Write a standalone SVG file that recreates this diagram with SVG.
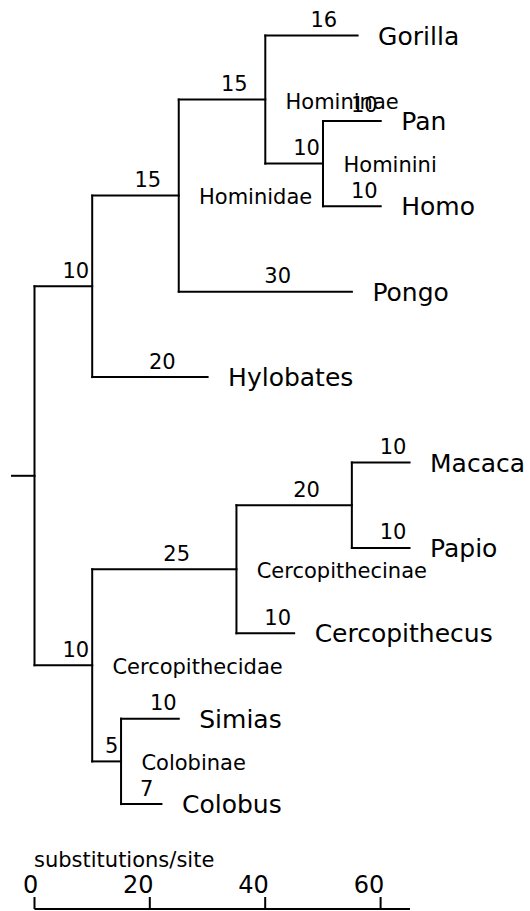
<svg xmlns="http://www.w3.org/2000/svg" width="530" height="911" viewBox="0 0 530 911">
<style>
.br{fill:none;stroke:#000;stroke-width:2;stroke-linecap:square}
.leaf{font-family:"DejaVu Sans",sans-serif;font-size:25px;fill:#000}
.inner{font-family:"DejaVu Sans",sans-serif;font-size:21px;fill:#000}
.bl{font-family:"DejaVu Sans",sans-serif;font-size:21px;fill:#000}
.sc{font-family:"DejaVu Sans",sans-serif;font-size:24px;fill:#000;text-anchor:end}
</style>
<rect width="530" height="911" fill="#fff"/>
<g id="connectors">
  <path class="br" d="M12,475.8H34.5"/>
  <path class="br" d="M34.5,286.35V665.3"/>
  <path class="br" d="M34.5,286.35H92.2"/>
  <path class="br" d="M92.2,195.6V377.1"/>
  <path class="br" d="M92.2,195.6H178.75"/>
  <path class="br" d="M92.2,377.1H207.6"/>
  <path class="br" d="M178.75,99.55V291.7"/>
  <path class="br" d="M178.75,99.55H265.3"/>
  <path class="br" d="M178.75,291.7H351.9"/>
  <path class="br" d="M265.3,35.5V163.6"/>
  <path class="br" d="M265.3,35.5H357.6"/>
  <path class="br" d="M265.3,163.6H323"/>
  <path class="br" d="M323,120.9V206.3"/>
  <path class="br" d="M323,120.9H380.7"/>
  <path class="br" d="M323,206.3H380.7"/>
  <path class="br" d="M34.5,665.3H92.2"/>
  <path class="br" d="M92.2,569.25V761.4"/>
  <path class="br" d="M92.2,569.25H236.45"/>
  <path class="br" d="M236.45,505.2V633.3"/>
  <path class="br" d="M236.45,505.2H351.85"/>
  <path class="br" d="M351.85,462.5V547.9"/>
  <path class="br" d="M351.85,462.5H409.55"/>
  <path class="br" d="M351.85,547.9H409.55"/>
  <path class="br" d="M236.45,633.3H294.15"/>
  <path class="br" d="M92.2,761.4H121.05"/>
  <path class="br" d="M121.05,718.7V804.1"/>
  <path class="br" d="M121.05,718.7H178.75"/>
  <path class="br" d="M121.05,804.1H161.44"/>
</g>
<g id="branch-lengths">
  <text class="bl" x="62.4" y="277.9">10</text>
  <text class="bl" x="134.5" y="187.1">15</text>
  <text class="bl" x="148.9" y="368.6">20</text>
  <text class="bl" x="221" y="91">15</text>
  <text class="bl" x="264.3" y="283.2">30</text>
  <text class="bl" x="310.5" y="27">16</text>
  <text class="bl" x="293.2" y="155.1">10</text>
  <text class="bl" x="350.9" y="112.4">10</text>
  <text class="bl" x="350.9" y="197.8">10</text>
  <text class="bl" x="62.4" y="656.8">10</text>
  <text class="bl" x="163.3" y="560.75">25</text>
  <text class="bl" x="293.2" y="496.7">20</text>
  <text class="bl" x="379.7" y="454">10</text>
  <text class="bl" x="379.7" y="539.4">10</text>
  <text class="bl" x="264.3" y="624.8">10</text>
  <text class="bl" x="105" y="752.9">5</text>
  <text class="bl" x="149.9" y="710.2">10</text>
  <text class="bl" x="140" y="795.6">7</text>
</g>
<g id="Hominidae"><text class="inner" x="199" y="203.8">Hominidae</text></g>
<g id="Homininae"><text class="inner" x="285.5" y="108.6">Homininae</text></g>
<g id="Hominini"><text class="inner" x="343.5" y="172.4">Hominini</text></g>
<g id="Cercopithecinae"><text class="inner" x="256.7" y="578.2">Cercopithecinae</text></g>
<g id="Cercopithecidae"><text class="inner" x="112.4" y="674.2">Cercopithecidae</text></g>
<g id="Colobinae"><text class="inner" x="141.4" y="770.2">Colobinae</text></g>
<g id="Gorilla"><text class="leaf" x="378.1" y="44.5">Gorilla</text></g>
<g id="Pan"><text class="leaf" x="401.2" y="129.9">Pan</text></g>
<g id="Homo"><text class="leaf" x="401.2" y="215.3">Homo</text></g>
<g id="Pongo"><text class="leaf" x="372.4" y="300.7">Pongo</text></g>
<g id="Hylobates"><text class="leaf" x="228.1" y="386.1">Hylobates</text></g>
<g id="Macaca"><text class="leaf" x="430" y="471.5">Macaca</text></g>
<g id="Papio"><text class="leaf" x="430" y="556.9">Papio</text></g>
<g id="Cercopithecus"><text class="leaf" x="314.65" y="642.3">Cercopithecus</text></g>
<g id="Simias"><text class="leaf" x="199.25" y="727.7">Simias</text></g>
<g id="Colobus"><text class="leaf" x="181.94" y="813.1">Colobus</text></g>
<g id="scale">
  <text x="34" y="867" style="font-family:'DejaVu Sans',sans-serif;font-size:21px;fill:#000">substitutions/site</text>
  <path class="br" d="M34.5,909H410M34.5,897V909M149.8,897V909M265.2,897V909M380.6,897V909" style="stroke-linecap:butt"/>
  <text class="sc" x="38.2" y="892.7">0</text>
  <text class="sc" x="153.5" y="892.7">20</text>
  <text class="sc" x="268.9" y="892.7">40</text>
  <text class="sc" x="384.3" y="892.7">60</text>
</g>
</svg>
